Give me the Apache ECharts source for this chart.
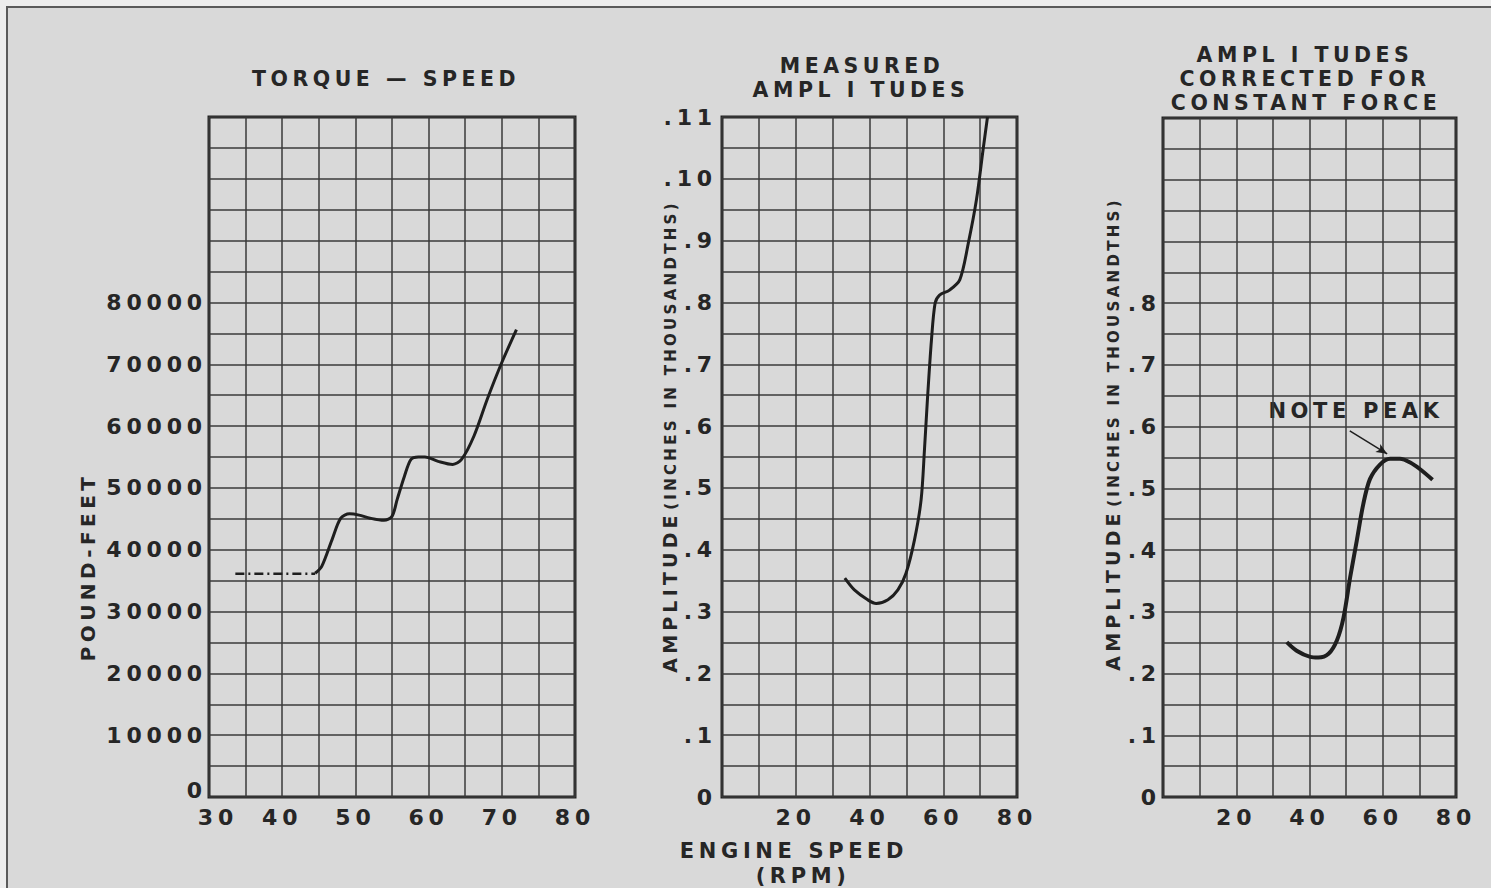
<!DOCTYPE html>
<html>
<head>
<meta charset="utf-8">
<title>Torque and amplitude vs engine speed</title>
<script src="https://cdn.jsdelivr.net/npm/echarts@6/dist/echarts.min.js"></script>
<style>
  html, body { margin: 0; padding: 0; background: #ededed; }
  #chart { width: 1491px; height: 888px; }
  /* old lettering-guide text is widely spaced */
  #chart text { letter-spacing: 0.22em; }
</style>
</head>
<body>
<div id="chart"></div>
<script>
  // ---- data ----
  // torque-speed: dash-dot start, then the drawn curve
  const torqueDashRpm = [33.6, 44.5]
  const torqueDashVal = [36100, 36100]
  const torqueRpm = [44.5, 45.4, 46.8, 48.0, 49.2, 50.5, 52.0, 53.9, 55.0, 55.7, 56.7, 57.6, 58.6, 59.5, 61.3, 63.3, 64.5, 66.2, 68.0, 69.9, 72.0]
  const torqueVal = [36200, 37300, 41600, 45100, 45800, 45600, 45100, 44750, 45400, 48100, 51900, 54600, 55000, 55000, 54300, 53800, 54600, 58400, 64300, 70000, 75600]

  // measured amplitudes
  const measuredRpm = [33.3, 35.9, 39.5, 41.8, 45.0, 47.7, 49.9, 52.2, 54.0, 54.9, 55.7, 56.8, 57.8, 59.0, 61.7, 64.5, 66.8, 69.0, 70.8, 72.0]
  const measuredAmp = [0.354, 0.335, 0.319, 0.313, 0.319, 0.335, 0.362, 0.416, 0.481, 0.561, 0.642, 0.739, 0.799, 0.812, 0.820, 0.837, 0.896, 0.966, 1.047, 1.10]

  // amplitudes corrected for constant force
  const correctedRpm = [33.8, 36.5, 40.2, 42.4, 45.2, 47.5, 49.3, 51.1, 52.9, 54.7, 56.5, 59.3, 62.0, 64.7, 67.5, 70.2, 73.6]
  const correctedAmp = [0.251, 0.237, 0.227, 0.226, 0.232, 0.254, 0.291, 0.356, 0.415, 0.475, 0.515, 0.539, 0.548, 0.548, 0.542, 0.531, 0.514]

  // "note peak" arrow, start and end in data units
  const peakArrowFrom = [51.0, 0.593]
  const peakArrowTo = [61.2, 0.556]

  // tick labels
  const torqueLabels = ['0', '10000', '20000', '30000', '40000', '50000', '60000', '70000', '80000']
  const speedLabels1 = [30, 40, 50, 60, 70, 80]
  const speedLabels2 = [20, 40, 60, 80]
  const ampLabels2 = ['0', '.1', '.2', '.3', '.4', '.5', '.6', '.7', '.8', '.9', '.10', '.11']
  const ampLabels3 = ['0', '.1', '.2', '.3', '.4', '.5', '.6', '.7', '.8']

  const FONT = 'DejaVu Sans'
  const INK = '#262626'
  const GRIDLINE = '#3a3a3a'
  const TICK_SIZE = 22
  const TITLE_SIZE = 20.5

  function zip(xs, ys) {
    return xs.map((x, i) => [x, ys[i]])
  }

  function gridBox(left, top, width, height) {
    return {
      left: left, top: top, width: width, height: height,
      show: true, borderColor: '#222', borderWidth: 3,
      backgroundColor: 'transparent',
      containLabel: false, outerBoundsMode: 'none'
    }
  }

  const tickText = { fontFamily: FONT, fontSize: TICK_SIZE, fontWeight: 'bold', color: INK }

  function speedAxis(gridIndex, min, labels) {
    return {
      type: 'value', gridIndex: gridIndex,
      min: min, max: 80, interval: min === 30 ? 5 : 10,
      axisLine: { show: false },
      axisTick: { show: false },
      splitLine: { show: true, lineStyle: { color: GRIDLINE, width: 1.5 } },
      axisLabel: Object.assign({
        margin: 9,
        formatter: v => {
          const n = Math.round(v)
          if (labels.indexOf(n) < 0) return ''
          // the first torque-speed label sits right of its line
          return n === 30 ? '{first|30}' : String(n)
        },
        rich: { first: Object.assign({ padding: [0, 0, 0, 18] }, tickText) }
      }, tickText)
    }
  }

  function ampAxis(gridIndex, labels, margin) {
    return {
      type: 'value', gridIndex: gridIndex,
      min: 0, max: 1.1, interval: 0.05,
      axisLine: { show: false },
      axisTick: { show: false },
      splitLine: { show: true, lineStyle: { color: GRIDLINE, width: 1.5 } },
      axisLabel: Object.assign({
        margin: margin,
        formatter: v => {
          const n = Math.round(v * 100)
          if (n % 10 !== 0) return ''
          return labels[n / 10] || ''
        }
      }, tickText)
    }
  }

  function label(text, x, y, size, extra) {
    return Object.assign({
      type: 'text', x: x, y: y,
      style: {
        text: text, fontFamily: FONT, fontSize: size, fontWeight: 'bold', fill: INK,
        align: 'center', verticalAlign: 'middle'
      }
    }, extra || {})
  }

  const upright = { rotation: Math.PI / 2 }
  const curve = { color: '#1e1e1e', width: 3 }

  const option = {
    animation: false,
    backgroundColor: '#d9d9d9',
    grid: [
      gridBox(209, 117, 366, 680),
      gridBox(722, 117, 295, 680),
      gridBox(1163, 118, 293, 679)
    ],
    xAxis: [
      speedAxis(0, 30, speedLabels1),
      speedAxis(1, 0, speedLabels2),
      speedAxis(2, 0, speedLabels2)
    ],
    yAxis: [
      {
        type: 'value', gridIndex: 0,
        min: 0, max: 110000, interval: 5000,
        axisLine: { show: false },
        axisTick: { show: false },
        splitLine: { show: true, lineStyle: { color: GRIDLINE, width: 1.5 } },
        axisLabel: Object.assign({
          margin: 2,
          formatter: v => {
            if (torqueLabels.indexOf(String(v)) < 0) return ''
            return v === 0 ? '{zero|0}' : String(v)
          },
          rich: { zero: Object.assign({ padding: [0, 0, 14, 0] }, tickText) }
        }, tickText)
      },
      ampAxis(1, ampLabels2, 5),
      ampAxis(2, ampLabels3, 2)
    ],
    series: [
      {
        name: 'torque (estimated start)', type: 'line', xAxisIndex: 0, yAxisIndex: 0,
        data: zip(torqueDashRpm, torqueDashVal), showSymbol: false,
        lineStyle: { color: '#1e1e1e', width: 2.5, type: [9, 4, 2, 4] }
      },
      {
        name: 'torque', type: 'line', xAxisIndex: 0, yAxisIndex: 0,
        data: zip(torqueRpm, torqueVal), showSymbol: false,
        smooth: 0.3, lineStyle: curve
      },
      {
        name: 'measured amplitude', type: 'line', xAxisIndex: 1, yAxisIndex: 1,
        data: zip(measuredRpm, measuredAmp), showSymbol: false,
        smooth: 0.3, lineStyle: curve
      },
      {
        name: 'corrected amplitude', type: 'line', xAxisIndex: 2, yAxisIndex: 2,
        data: zip(correctedRpm, correctedAmp), showSymbol: false,
        smooth: 0.3, lineStyle: { color: '#1e1e1e', width: 4 },
        markLine: {
          silent: true, animation: false,
          symbolSize: [7, 11],
          label: { show: false },
          lineStyle: { color: '#1e1e1e', width: 1.5, type: 'solid' },
          data: [[
            { coord: peakArrowFrom, symbol: 'none' },
            { coord: peakArrowTo, symbol: 'arrow' }
          ]]
        }
      }
    ],
    graphic: [
      // outer paper edge and frame
      { type: 'rect', shape: { x: 0, y: 0, width: 7, height: 888 }, style: { fill: '#ededed' } },
      { type: 'rect', shape: { x: 0, y: 0, width: 1491, height: 7 }, style: { fill: '#ededed' } },
      { type: 'rect', shape: { x: 7, y: 7, width: 1500, height: 900 }, style: { fill: 'none', stroke: '#5a5a5a', lineWidth: 2 } },

      // titles
      label('TORQUE — SPEED', 386, 79, TITLE_SIZE),
      label('MEASURED', 862, 66, TITLE_SIZE),
      label('AMPL I TUDES', 861, 90, TITLE_SIZE),
      label('AMPL I TUDES', 1305, 55, TITLE_SIZE),
      label('CORRECTED FOR', 1305, 79, TITLE_SIZE),
      label('CONSTANT FORCE', 1306, 103, TITLE_SIZE),

      // axis names
      label('POUND-FEET', 88, 567, 20, upright),
      label('AMPLITUDE', 670, 592, 19, upright),
      label('(INCHES IN THOUSANDTHS)', 671, 355, 15, upright),
      label('AMPLITUDE', 1113, 590, 19, upright),
      label('(INCHES IN THOUSANDTHS)', 1114, 352, 15, upright),
      label('ENGINE SPEED', 794, 851, 21),
      label('(RPM)', 803, 876, 21),

      // annotation
      label('NOTE PEAK', 1356, 411, 21)
    ]
  }

  const chart = echarts.init(document.getElementById('chart'), null, { renderer: 'svg' })
  chart.setOption(option)
</script>
</body>
</html>
